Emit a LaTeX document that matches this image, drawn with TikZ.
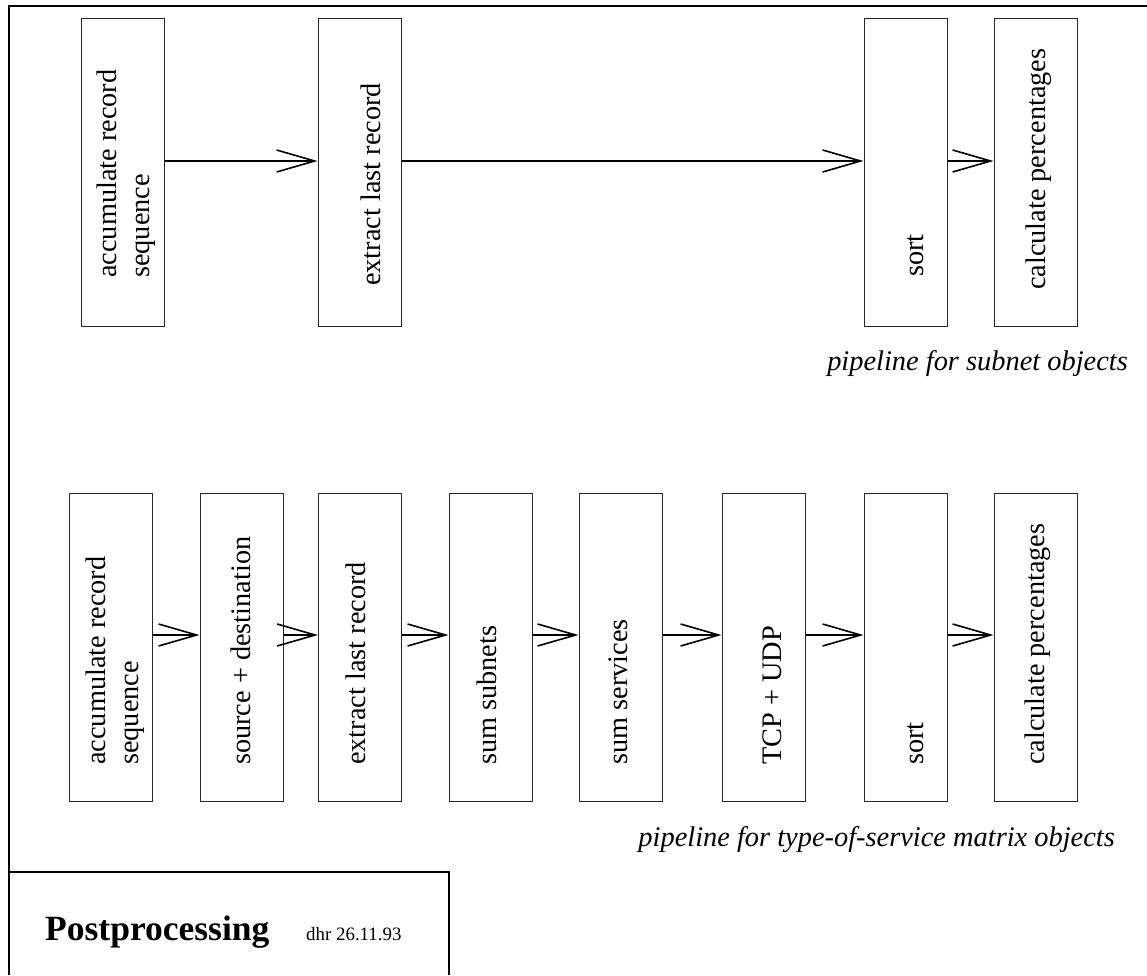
\documentclass[tikz,border=0pt]{standalone}
\usepackage{fontspec}
\setmainfont{Liberation Serif}
\usetikzlibrary{arrows.meta}
\begin{document}
\begin{tikzpicture}[x=1pt,y=-1pt,
  stage/.style={draw=black!85, line width=1pt, inner sep=0pt, minimum width=83pt, minimum height=308pt},
  lbl/.style={rotate=90, anchor=base west, inner sep=0pt, font=\fontsize{28.3}{33}\selectfont},
  lbltwo/.style={rotate=90, anchor=north west, inner sep=0pt, align=left, font=\fontsize{28.3}{33}\selectfont},
  flow/.style={line width=1.6pt, -{Straight Barb[length=38pt,width=22pt,line width=1.6pt]}},
  captxt/.style={anchor=base east, inner sep=0pt, font=\fontsize{28.4}{33}\selectfont\itshape}
]
\useasboundingbox (0,0) rectangle (1147,975);
% frame
\draw[line width=2pt] (1147,6) -- (9,6) -- (9,975);
\draw[line width=1.5pt] (9,872) -- (449,872) -- (449,975);

% top row
\node[stage] (ta) at (122.5,172) {};
\node[stage] (tb) at (359.5,172) {};
\node[stage] (tc) at (905.5,172) {};
\node[stage] (td) at (1035.5,172) {};
\node[lbltwo] (tal) at (96.7,278) {accumulate record\\sequence};
\node[lbl] (tbl) at (380,286) {extract last record};
\node[lbl] (tcl) at (923,277) {sort};
\node[lbl] (tdl) at (1045,290) {calculate percentages};
\coordinate (r1) at (0,161);
\draw[flow] (ta.east |- r1) -- (tb.west |- r1);
\draw[flow] (tb.east |- r1) -- (tc.west |- r1);
\draw[flow] (tc.east |- r1) -- (td.west |- r1);
\node[captxt] (cap1) at (1128,370) {pipeline for subnet objects};

% bottom row
\node[stage] (b1) at (110.5,647) {};
\node[stage] (b2) at (241.5,647) {};
\node[stage] (b3) at (360,647) {};
\node[stage] (b4) at (490.5,647) {};
\node[stage] (b5) at (620.5,647) {};
\node[stage] (b6) at (763.5,647) {};
\node[stage] (b7) at (905.5,647) {};
\node[stage] (b8) at (1035.5,647) {};
\node[lbltwo] (b1l) at (86,765) {accumulate record\\sequence};
\node[lbl] (b2l) at (250,765) {source + destination};
\node[lbl] (b3l) at (365,765) {extract last record};
\node[lbl] (b4l) at (496,765) {sum subnets};
\node[lbl] (b5l) at (627,765) {sum services};
\node[lbl] (b6l) at (781,765) {TCP + UDP};
\node[lbl] (b7l) at (923,765) {sort};
\node[lbl] (b8l) at (1044,765) {calculate percentages};
\coordinate (r2) at (0,635);
\draw[flow] (b1.east |- r2) -- (b2.west |- r2);
\draw[flow] (b2.east |- r2) -- (b3.west |- r2);
\draw[flow] (b3.east |- r2) -- (b4.west |- r2);
\draw[flow] (b4.east |- r2) -- (b5.west |- r2);
\draw[flow] (b5.east |- r2) -- (b6.west |- r2);
\draw[flow] (b6.east |- r2) -- (b7.west |- r2);
\draw[flow] (b7.east |- r2) -- (b8.west |- r2);
\node[captxt] (cap2) at (1115,846) {pipeline for type-of-service matrix objects};

% title
\node[anchor=base west, inner sep=0pt, font=\fontsize{35.5}{40}\selectfont\bfseries] (title) at (45,940) {Postprocessing};
\node[anchor=base west, inner sep=0pt, font=\fontsize{18.9}{22}\selectfont] (date) at (306,940) {dhr 26.11.93};
\end{tikzpicture}
\end{document}
